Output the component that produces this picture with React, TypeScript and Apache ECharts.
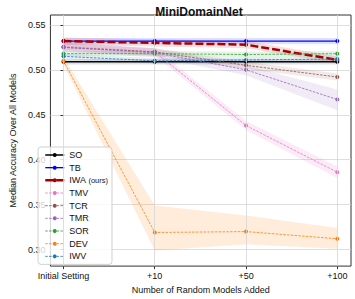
import React, { useEffect, useRef } from "react";
import * as echarts from "echarts";

const xVals = [0, 1, 2, 3];
const xLabels = ["Initial Setting", "+10", "+50", "+100"];
const yTicks = [0.3, 0.35, 0.4, 0.45, 0.5, 0.55];

const SO = [0.509, 0.509, 0.509, 0.509];
const SO_lo = [0.506, 0.506, 0.506, 0.506];
const SO_hi = [0.512, 0.512, 0.512, 0.512];
const TB = [0.532, 0.532, 0.532, 0.532];
const TB_lo = [0.5285, 0.5285, 0.5285, 0.5285];
const TB_hi = [0.5355, 0.5355, 0.5355, 0.5355];
const IWA = [0.532, 0.530, 0.528, 0.511];
const IWA_lo = [0.528, 0.526, 0.524, 0.507];
const IWA_hi = [0.536, 0.534, 0.532, 0.515];
const TMV = [0.526, 0.520, 0.438, 0.386];
const TMV_lo = [0.522, 0.516, 0.433, 0.3795];
const TMV_hi = [0.530, 0.524, 0.443, 0.3925];
const TCR = [0.525, 0.520, 0.505, 0.492];
const TCR_lo = [0.521, 0.516, 0.501, 0.488];
const TCR_hi = [0.529, 0.524, 0.509, 0.496];
const TMR = [0.525, 0.519, 0.500, 0.467];
const TMR_lo = [0.520, 0.514, 0.494, 0.455];
const TMR_hi = [0.531, 0.524, 0.505, 0.478];
const SOR = [0.518, 0.518, 0.517, 0.518];
const SOR_lo = [0.515, 0.515, 0.514, 0.515];
const SOR_hi = [0.521, 0.521, 0.520, 0.521];
const DEV = [0.510, 0.319, 0.320, 0.312];
const DEV_lo = [0.506, 0.299, 0.306, 0.301];
const DEV_hi = [0.514, 0.349, 0.338, 0.324];
const IWV = [0.515, 0.510, 0.511, 0.512];
const IWV_lo = [0.512, 0.507, 0.508, 0.509];
const IWV_hi = [0.518, 0.513, 0.514, 0.515];

const FONT = "Liberation Sans";

type Def = {
  name: string;
  vals: number[];
  lo: number[];
  hi: number[];
  color: string;
  band: string;
  width: number;
  dash: any;
  sym: number;
};

const defs: Def[] = [
  { name: "SO", vals: SO, lo: SO_lo, hi: SO_hi, color: "#000000", band: "rgba(0,0,0,0.12)", width: 1.5, dash: "solid", sym: 4 },
  { name: "TB", vals: TB, lo: TB_lo, hi: TB_hi, color: "#0000ff", band: "rgba(0,0,255,0.12)", width: 1.3, dash: "solid", sym: 4 },
  { name: "IWA (ours)", vals: IWA, lo: IWA_lo, hi: IWA_hi, color: "#a50000", band: "rgba(165,0,0,0.12)", width: 2.5, dash: [8, 3], sym: 4 },
  { name: "TMV", vals: TMV, lo: TMV_lo, hi: TMV_hi, color: "#e377c2", band: "rgba(227,119,194,0.15)", width: 0.8, dash: [2.5, 1.3], sym: 4 },
  { name: "TCR", vals: TCR, lo: TCR_lo, hi: TCR_hi, color: "#8c564b", band: "rgba(140,86,75,0.12)", width: 0.8, dash: [2.5, 1.3], sym: 4 },
  { name: "TMR", vals: TMR, lo: TMR_lo, hi: TMR_hi, color: "#9467bd", band: "rgba(148,103,189,0.13)", width: 0.8, dash: [2.5, 1.3], sym: 4 },
  { name: "SOR", vals: SOR, lo: SOR_lo, hi: SOR_hi, color: "#2ca02c", band: "rgba(44,160,44,0.12)", width: 0.8, dash: [2.5, 1.3], sym: 4 },
  { name: "DEV", vals: DEV, lo: DEV_lo, hi: DEV_hi, color: "#ff7f0e", band: "rgba(255,127,14,0.15)", width: 0.8, dash: [2.5, 1.3], sym: 4 },
  { name: "IWV", vals: IWV, lo: IWV_lo, hi: IWV_hi, color: "#1f77b4", band: "rgba(31,119,180,0.12)", width: 0.8, dash: [2.5, 1.3], sym: 4 },
];

export default function App() {
  const ref = useRef<HTMLDivElement>(null);
  useEffect(() => {
    if (!ref.current) return;
    const chart = echarts.init(ref.current, undefined, { renderer: "svg" });
    const bands = defs.map((d) => ({
      type: "custom",
      name: d.name + "_band",
      silent: true,
      z: 1,
      clip: true,
      data: xVals.map((x, i) => [x, d.hi[i]]),
      renderItem: (params: any, api: any) => {
        if (params.dataIndex !== 0) return null;
        const pts: number[][] = [];
        for (let i = 0; i < xVals.length; i++) pts.push(api.coord([xVals[i], d.hi[i]]));
        for (let i = xVals.length - 1; i >= 0; i--) pts.push(api.coord([xVals[i], d.lo[i]]));
        return { type: "polygon", shape: { points: pts }, style: { fill: d.band } };
      },
    }));
    const lines = defs.map((d, k) => ({
      type: "line",
      name: d.name,
      z: 3 + k * 0.01,
      data: xVals.map((x, i) => [x, d.vals[i]]),
      symbol: "circle",
      symbolSize: d.sym,
      showSymbol: true,
      itemStyle: { color: d.color },
      lineStyle: { color: d.color, width: d.width, type: d.dash },
    }));
    const gridLines = {
      type: "line",
      name: "_grid",
      data: [],
      silent: true,
      z: 0,
      markLine: {
        silent: true,
        symbol: "none",
        label: { show: false },
        lineStyle: { color: "#d5d5d5", width: 0.8, type: "solid" },
        data: xVals.map((x) => ({ xAxis: x })),
      },
    };
    chart.setOption({
      animation: false,
      backgroundColor: "#ffffff",
      title: {
        text: "MiniDomainNet",
        left: 194,
        top: 1,
        textAlign: "center",
        textStyle: { fontFamily: FONT, fontSize: 12, fontWeight: "bold", color: "#111" },
      },
      grid: {
        left: 37,
        right: 4,
        top: 15,
        bottom: 30,
        show: true,
        borderColor: "#333",
        borderWidth: 1,
        backgroundColor: "transparent",
      },
      legend: {
        orient: "vertical",
        left: 38,
        top: 147,
        data: defs.map((d) => ({
          name: d.name,
          itemStyle: { color: d.color, borderWidth: 0 },
          lineStyle: { color: d.color, width: d.width === 0.8 ? 0.8 : d.width, type: d.dash },
        })),
        itemWidth: 19,
        itemHeight: 5,
        itemGap: 2.67,
        itemTextGap: 7,
        padding: [3, 4, 3, 6],
        backgroundColor: "rgba(255,255,255,0.8)",
        borderColor: "#d0d0d0",
        borderWidth: 1,
        borderRadius: 3,
        selectedMode: false,
        formatter: (n: string) => (n === "IWA (ours)" ? "{a|IWA} {b|(ours)}" : n),
        textStyle: {
          fontFamily: FONT,
          fontSize: 9,
          lineHeight: 10,
          color: "#111",
          rich: {
            a: { fontFamily: FONT, fontSize: 9, lineHeight: 10, color: "#111" },
            b: { fontFamily: FONT, fontSize: 7.5, lineHeight: 10, color: "#111" },
          },
        },
      },
      xAxis: {
        type: "value",
        min: -0.143,
        max: 3.15,
        name: "Number of Random Models Added",
        nameLocation: "middle",
        nameGap: 15,
        nameTextStyle: { fontFamily: FONT, fontSize: 9, color: "#111" },
        axisLine: { show: false },
        axisTick: { show: true, customValues: xVals, length: 3, lineStyle: { color: "#333" } },
        axisLabel: {
          customValues: xVals,
          formatter: (v: number) => xLabels[Math.round(v)] ?? "",
          fontFamily: FONT,
          fontSize: 9,
          color: "#111",
          margin: 5,
        },
        splitLine: { show: false },
      },
      yAxis: {
        type: "value",
        min: 0.2816,
        max: 0.561,
        name: "Median Accuracy Over All Models",
        nameLocation: "middle",
        nameGap: 26,
        nameTextStyle: { fontFamily: FONT, fontSize: 9, color: "#111" },
        axisLine: { show: false },
        axisTick: { show: true, customValues: yTicks, length: 3, lineStyle: { color: "#333" } },
        axisLabel: {
          customValues: yTicks,
          formatter: (v: number) => v.toFixed(2),
          fontFamily: FONT,
          fontSize: 9,
          color: "#111",
          margin: 5,
        },
        splitLine: { show: true, lineStyle: { color: "#d5d5d5", width: 0.8 } },
      },
      series: [gridLines, ...bands, ...lines],
    });
    return () => chart.dispose();
  }, []);
  return (
    <div
      ref={ref}
      style={{ position: "fixed", left: 0, top: 0, width: 355, height: 299 }}
    />
  );
}
